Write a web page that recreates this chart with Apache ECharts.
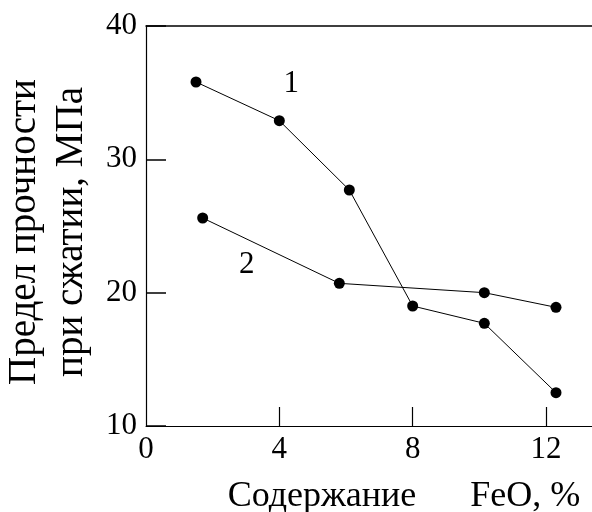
<!DOCTYPE html>
<html>
<head>
<meta charset="utf-8">
<script src="https://cdn.jsdelivr.net/npm/echarts@6/dist/echarts.min.js"></script>
<style>
  html, body { margin: 0; padding: 0; background: #fff; }
  #chart { width: 592px; height: 512px; }
</style>
</head>
<body>
<div id="chart"></div>
<script>
var myChart = echarts.init(document.getElementById('chart'));

// FeO content, % and compressive strength, MPa
var feo1 = [1.5, 4.0, 6.1, 8.0, 10.15, 12.3];
var strength1 = [35.8, 32.9, 27.7, 19.0, 17.7, 12.5];
var feo2 = [1.7, 5.8, 10.15, 12.3];
var strength2 = [25.6, 20.7, 20.0, 18.9];
var curveNames = ['1', '2'];
var xTicks = [0, 4, 8, 12];
var yTicks = [10, 20, 30, 40];

var font = 'Liberation Serif';

function pairs(xs, ys) {
    return xs.map(function (x, i) { return [x, ys[i]]; });
}

var data1 = pairs(feo1, strength1);
var data2 = pairs(feo2, strength2);
// curve number next to a point
data1[1] = {
    value: data1[1],
    label: { show: true, formatter: curveNames[0], offset: [12, -37] }
};
data2[0] = {
    value: data2[0],
    label: { show: true, formatter: curveNames[1], offset: [44, 47] }
};

var seriesStyle = {
    type: 'line',
    symbol: 'circle',
    symbolSize: 11,
    itemStyle: { color: '#000' },
    lineStyle: { color: '#000', width: 1 },
    label: {
        show: false,
        position: 'inside',
        color: '#000',
        fontFamily: font,
        fontSize: 31
    },
    animation: false
};

option = {
    backgroundColor: '#fff',
    grid: { left: 146, top: 26, right: 0, bottom: 86, outerBoundsMode: 'none', containLabel: false },
    xAxis: [{
        type: 'value',
        min: 0,
        max: 13.38,
        interval: 4,
        name: 'Содержание      FeO, %',
        nameLocation: 'middle',
        nameGap: 53,
        nameTextStyle: { color: '#000', fontFamily: font, fontSize: 36, padding: [0, 0, 0, 70] },
        axisLine: { lineStyle: { color: '#000', width: 1 } },
        axisTick: { inside: true, length: 19, customValues: xTicks.slice(1), lineStyle: { color: '#000', width: 1.2 } },
        axisLabel: { customValues: xTicks, color: '#000', fontFamily: font, fontSize: 31, margin: 8 },
        splitLine: { show: false }
    }, {
        type: 'value',
        position: 'top',
        min: 0,
        max: 13.38,
        axisLine: { show: true, onZero: false, lineStyle: { color: '#000', width: 1.5 } },
        axisTick: { show: false },
        axisLabel: { show: false },
        splitLine: { show: false }
    }],
    yAxis: {
        type: 'value',
        min: yTicks[0],
        max: yTicks[yTicks.length - 1],
        interval: 10,
        name: 'Предел прочности\nпри сжатии, МПа',
        nameLocation: 'middle',
        nameRotate: 90,
        nameGap: 51,
        nameTextStyle: { color: '#000', fontFamily: font, fontSize: 39, lineHeight: 47, padding: [0, 12, 0, 0] },
        axisLine: { show: true, lineStyle: { color: '#000', width: 1.2 } },
        axisTick: { show: true, inside: true, length: 20, lineStyle: { color: '#000', width: 1.5 } },
        axisLabel: { color: '#000', fontFamily: font, fontSize: 31, margin: 9 },
        splitLine: { show: false }
    },
    series: [
        Object.assign({}, seriesStyle, { name: curveNames[0], data: data1 }),
        Object.assign({}, seriesStyle, { name: curveNames[1], data: data2 })
    ]
};
myChart.setOption(option);
</script>
</body>
</html>
